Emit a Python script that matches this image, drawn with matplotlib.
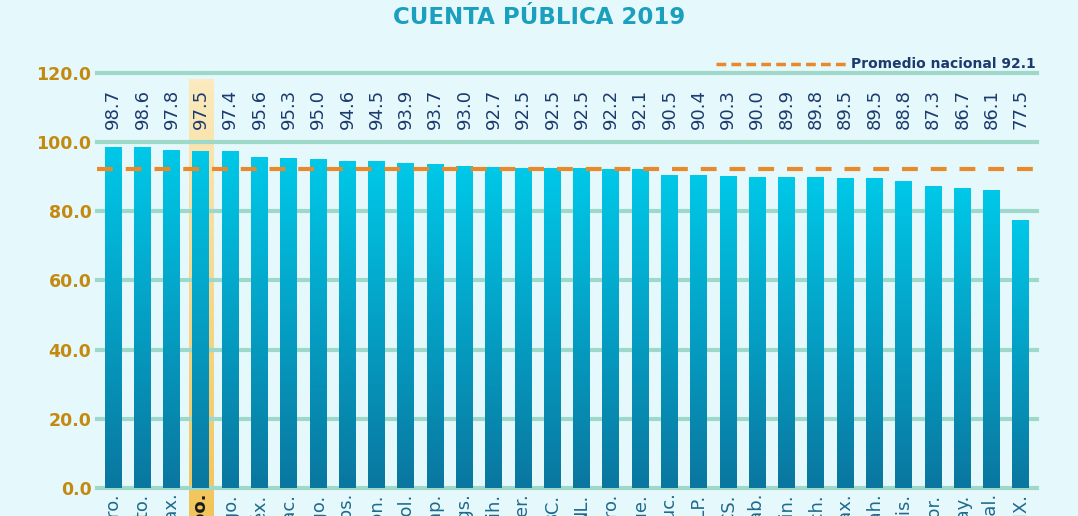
import numpy as np
import matplotlib
matplotlib.use('Agg')
import matplotlib.pyplot as plt
from matplotlib.colors import LinearSegmentedColormap

# states (abbreviations, only the end shows under the axis)
states = ['Qro.', 'Gto.', 'Tlax.', 'Q. Roo.', 'Dgo.', 'Edoméx.', 'Zac.', 'Hgo.',
          'Tamps.', 'Son.', 'Col.', 'Camp.', 'Ags.', 'Chih.', 'Ver.', 'BC.',
          'NL.', 'Gro.', 'Pue.', 'Yuc.', 'SLP.', 'BCS.', 'Tab.', 'Sin.',
          'Mich.', 'Oax.', 'Coah.', 'Chis.', 'Mor.', 'Nay.', 'Jal.', 'CDMX.']
values = [98.7, 98.6, 97.8, 97.5, 97.4, 95.6, 95.3, 95.0, 94.6, 94.5, 93.9,
          93.7, 93.0, 92.7, 92.5, 92.5, 92.5, 92.2, 92.1, 90.5, 90.4, 90.3,
          90.0, 89.9, 89.8, 89.5, 89.5, 88.8, 87.3, 86.7, 86.1, 77.5]
highlight = 'Q. Roo.'
average = 92.1
yticks = [0, 20, 40, 60, 80, 100, 120]

BG = '#e5f8fc'
GOLD = '#c48a10'
NAVY = '#1b3a6e'
TEAL = '#1a9fbf'
GRID = '#9ed8c8'
ORANGE = '#e8892a'

fig = plt.figure(figsize=(10.78, 5.16), dpi=100, facecolor=BG)
ax = fig.add_axes([0.09, 0.0543, 0.872, 0.8042])
ax.set_facecolor(BG)
ax.set_xlim(-0.55, 31.55)
ax.set_ylim(0, 120)

x = np.arange(len(states))
hi = states.index(highlight)

# highlighted column behind everything
hl_cmap = LinearSegmentedColormap.from_list('hl', ['#fbeabd', '#f2c55a'])
grad = np.linspace(0, 1, 100).reshape(-1, 1)
ax.imshow(grad, cmap=hl_cmap, aspect='auto', extent=(hi - 0.42, hi + 0.42, -8.5, 118),
          origin='upper', clip_on=False, zorder=0.1)

# gridlines
for t in yticks:
    ax.axhline(t, color=GRID, lw=3, clip_on=False, zorder=0.5)

# bars with a vertical gradient, light on top
bar_cmap = LinearSegmentedColormap.from_list('bar', ['#00c8e8', '#0a77a0'])
bars = ax.bar(x, values, width=0.58, color='none', zorder=3)
for b, v in zip(bars, values):
    im = ax.imshow(grad, cmap=bar_cmap, aspect='auto', interpolation='bilinear',
                   extent=(b.get_x(), b.get_x() + b.get_width(), 0, v),
                   origin='upper', zorder=3)
    im.set_clip_path(b)

# national average
ax.axhline(average, color=ORANGE, lw=3, ls=(0, (3.8, 3.1)), zorder=8, clip_on=False)
ax.plot([0.658, 0.8], [1.022, 1.022], transform=ax.transAxes, color=ORANGE,
        lw=2.5, ls=(0, (2.8, 1.5)), clip_on=False)
ax.text(0.802, 1.022, 'Promedio nacional %.1f' % average, transform=ax.transAxes,
        color=NAVY, fontsize=10, ha='left', va='center', fontweight='bold')

# value labels
for xi, v in zip(x, values):
    ax.text(xi, 109.5, '%.1f' % v, rotation=90, ha='center', va='center',
            color=NAVY, fontsize=13)

ax.set_yticks(yticks)
ax.set_yticklabels(['%.1f' % t for t in yticks], color=GOLD, fontsize=12.5,
                   fontweight='bold')
ax.set_xticks(x)
ax.set_xticklabels(states, rotation=90, color='#1f6a8c', fontsize=13,
                   va='top', ha='center')
ax.get_xticklabels()[hi].set_fontweight('bold')
ax.get_xticklabels()[hi].set_color('#1a1a1a')
ax.tick_params(length=0, pad=4)
for s in ax.spines.values():
    s.set_visible(False)

fig.text(0.5, 0.966, 'CUENTA PÚBLICA 2019', ha='center', va='center',
         color=TEAL, fontsize=16.5, fontweight='bold')

fig.savefig('out.png', dpi=100, facecolor=BG)
